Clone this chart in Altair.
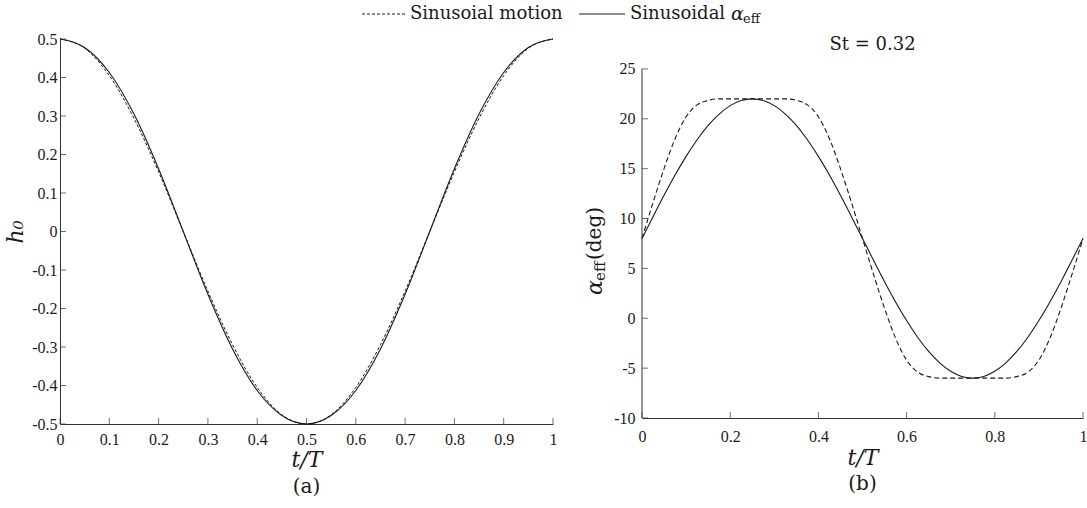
import altair as alt
import pandas as pd

# ---------------- data ----------------
# panel (a): heave h0 over one period
t1 = [0.0, 0.05, 0.1, 0.15, 0.2, 0.25, 0.3, 0.35, 0.4, 0.45, 0.5,
      0.55, 0.6, 0.65, 0.7, 0.75, 0.8, 0.85, 0.9, 0.95, 1.0]
h_motion = [0.5, 0.476, 0.405, 0.294, 0.155, 0.0, -0.155, -0.294, -0.405, -0.476, -0.5,
            -0.476, -0.405, -0.294, -0.155, 0.0, 0.155, 0.294, 0.405, 0.476, 0.5]
h_alpha = [0.5, 0.478, 0.413, 0.305, 0.163, 0.0, -0.163, -0.305, -0.413, -0.478, -0.5,
           -0.478, -0.413, -0.305, -0.163, 0.0, 0.163, 0.305, 0.413, 0.478, 0.5]

# panel (b): effective angle of attack (deg), St = 0.32
t2 = [0.0, 0.025, 0.05, 0.075, 0.1, 0.125, 0.15, 0.175, 0.2, 0.225, 0.25,
      0.275, 0.3, 0.325, 0.35, 0.375, 0.4, 0.425, 0.45, 0.475, 0.5,
      0.525, 0.55, 0.575, 0.6, 0.625, 0.65, 0.675, 0.7, 0.725, 0.75,
      0.775, 0.8, 0.825, 0.85, 0.875, 0.9, 0.925, 0.95, 0.975, 1.0]
a_motion = [8.0, 11.6, 15.0, 18.0, 20.2, 21.4, 21.85, 22.0, 22.0, 22.0, 22.0,
            22.0, 22.0, 22.0, 21.85, 21.4, 20.2, 18.0, 15.0, 11.6, 8.0,
            4.4, 1.0, -2.0, -4.2, -5.4, -5.85, -6.0, -6.0, -6.0, -6.0,
            -6.0, -6.0, -6.0, -5.85, -5.4, -4.2, -2.0, 1.0, 4.4, 8.0]
a_alpha = [8.0, 10.19, 12.33, 14.36, 16.23, 17.9, 19.33, 20.47, 21.32, 21.83, 22.0,
           21.83, 21.32, 20.47, 19.33, 17.9, 16.23, 14.36, 12.33, 10.19, 8.0,
           5.81, 3.67, 1.64, -0.23, -1.9, -3.33, -4.47, -5.32, -5.83, -6.0,
           -5.83, -5.32, -4.47, -3.33, -1.9, -0.23, 1.64, 3.67, 5.81, 8.0]

xt1 = [0, 0.1, 0.2, 0.3, 0.4, 0.5, 0.6, 0.7, 0.8, 0.9, 1]
yt1 = [-0.5, -0.4, -0.3, -0.2, -0.1, 0, 0.1, 0.2, 0.3, 0.4, 0.5]
xt2 = [0, 0.2, 0.4, 0.6, 0.8, 1]
yt2 = [-10, -5, 0, 5, 10, 15, 20, 25]
y2_top = 28.0   # headroom above the 25 tick (space for the St title)

legend_labels = ["Sinusoial motion", "Sinusoidal", "\u03b1", "eff"]
panel_labels = ["(a)", "(b)"]
st_label = "St = 0.32"

# ---------------- styling ----------------
W1, H1 = 493, 385
W2, H2 = 441, 379
INK = "#1a1a1a"
AX = "#333333"
SERIF = "DejaVu Serif"
TICKF = "Liberation Serif"
TICKS = 16
LAB = "'' + datum.value"

df1 = pd.DataFrame({"t": t1, "motion": h_motion, "alpha": h_alpha})
df2 = pd.DataFrame({"t": t2, "motion": a_motion, "alpha": a_alpha})
one = pd.DataFrame({"k": [0]})


def txt(s, x, y, size, style="normal", align="center", angle=0, font=SERIF):
    return alt.Chart(one).mark_text(
        text=s, font=font, fontSize=size, fontStyle=style, align=align,
        baseline="middle", angle=angle, color=INK
    ).encode(x=alt.value(x), y=alt.value(y))


def inner_ticks(xvals, yvals, xs, ys, xax, yax, xmin, ymin):
    dx = pd.DataFrame({"x": xvals, "y": [ymin] * len(xvals)})
    dy = pd.DataFrame({"x": [xmin] * len(yvals), "y": yvals})
    tx = alt.Chart(dx).mark_tick(orient="vertical", size=6, thickness=1, yOffset=-3, color=AX).encode(
        x=alt.X("x:Q", scale=xs, axis=xax), y=alt.Y("y:Q", scale=ys, axis=yax))
    ty = alt.Chart(dy).mark_tick(orient="horizontal", size=6, thickness=1, xOffset=3, color=AX).encode(
        x=alt.X("x:Q", scale=xs, axis=xax), y=alt.Y("y:Q", scale=ys, axis=yax))
    return tx, ty


def axis(vals, title, lpad, tpad, domain=True):
    kw = dict(values=vals, labelExpr=LAB, grid=False, ticks=False, tickSize=0, domain=domain,
              labelPadding=lpad, labelFont=TICKF, labelFontSize=TICKS, labelColor=INK,
              labelFlush=False, labelOverlap=False)
    if title is None:
        kw["title"] = None
    else:
        kw.update(title=title, titlePadding=tpad, titleFont=SERIF, titleFontStyle="italic",
                  titleFontSize=22, titleFontWeight="normal", titleColor=INK)
    return alt.Axis(**kw)


# ---------------- panel (a) ----------------
xs1 = alt.Scale(domain=[0, 1], nice=False, zero=False)
ys1 = alt.Scale(domain=[-0.5, 0.5], nice=False, zero=False)
xax1 = axis(xt1, "t/T", 7, 2)
yax1 = axis(yt1, "h\u2080", 3, 4)

l1m = alt.Chart(df1).mark_line(interpolate="monotone", strokeDash=[3, 2], color=INK, strokeWidth=1).encode(
    x=alt.X("t:Q", scale=xs1, axis=xax1), y=alt.Y("motion:Q", scale=ys1, axis=yax1))
l1a = alt.Chart(df1).mark_line(interpolate="monotone", color=INK, strokeWidth=1.1).encode(
    x=alt.X("t:Q", scale=xs1, axis=xax1), y=alt.Y("alpha:Q", scale=ys1, axis=yax1))
tx1, ty1 = inner_ticks(xt1, yt1, xs1, ys1, xax1, yax1, 0, -0.5)

leg1_line = alt.Chart(one).mark_rule(strokeDash=[3, 2], color=INK, strokeWidth=1).encode(
    x=alt.value(302), x2=alt.value(347), y=alt.value(-25))
leg1_text = txt(legend_labels[0], 350, -25, 18, align="left")
pa = txt(panel_labels[0], W1 / 2, H1 + 63, 20)

left = alt.layer(l1m, l1a, tx1, ty1, leg1_line, leg1_text, pa).properties(width=W1, height=H1)

# ---------------- panel (b) ----------------
xs2 = alt.Scale(domain=[0, 1], nice=False, zero=False)
ys2 = alt.Scale(domain=[-10, y2_top], nice=False, zero=False)
xax2 = axis(xt2, "t/T", 10, 3)
yax2 = axis(yt2, None, 7, 0, domain=False)

l2m = alt.Chart(df2).mark_line(interpolate="monotone", strokeDash=[5, 3], color=INK, strokeWidth=1.1).encode(
    x=alt.X("t:Q", scale=xs2, axis=xax2), y=alt.Y("motion:Q", scale=ys2, axis=yax2))
l2a = alt.Chart(df2).mark_line(interpolate="monotone", color=INK, strokeWidth=1.1).encode(
    x=alt.X("t:Q", scale=xs2, axis=xax2), y=alt.Y("alpha:Q", scale=ys2, axis=yax2))
tx2, ty2 = inner_ticks(xt2, yt2, xs2, ys2, xax2, yax2, 0, -10)

# y axis line of panel (b) spans only the tick range -10 .. 25
yline2 = alt.Chart(pd.DataFrame({"x": [0], "y": [yt2[0]], "y2": [yt2[-1]]})).mark_rule(
    color=AX, strokeWidth=1).encode(
    x=alt.X("x:Q", scale=xs2, axis=xax2), y=alt.Y("y:Q", scale=ys2, axis=yax2), y2="y2:Q")

leg2_line = alt.Chart(one).mark_rule(color=INK, strokeWidth=1).encode(
    x=alt.value(-63), x2=alt.value(-17), y=alt.value(-25))
leg2_t1 = txt(legend_labels[1], -12, -25, 18, align="left")
leg2_t2 = txt(legend_labels[2], 89, -25, 19, style="italic", align="left")
leg2_t3 = txt(legend_labels[3], 101, -20, 13, align="left")

ytitle_a = txt("\u03b1", -47, 256, 22, style="italic", align="left", angle=270)
ytitle_b = txt("eff", -42, 242, 15, align="left", angle=270)
ytitle_c = txt("(deg)", -47, 221, 20, align="left", angle=270)

st = txt(st_label, W2 / 2 + 10, 6, 18)
pb = txt(panel_labels[1], W2 / 2, H2 + 66, 20)

right = alt.layer(l2m, l2a, tx2, ty2, yline2, leg2_line, leg2_t1, leg2_t2, leg2_t3,
                  ytitle_a, ytitle_b, ytitle_c, st, pb).properties(width=W2, height=H2)

chart = alt.hconcat(left, right, spacing=15).properties(
    padding={"left": 4, "top": 5, "right": 0, "bottom": 0}
).configure_view(stroke=None).configure_axis(
    domainColor=AX, domainWidth=1, labelFont=TICKF, labelFontSize=TICKS, labelColor=INK,
    titleColor=INK
)

chart.save("out.html", embed_options={"renderer": "svg", "actions": False})
